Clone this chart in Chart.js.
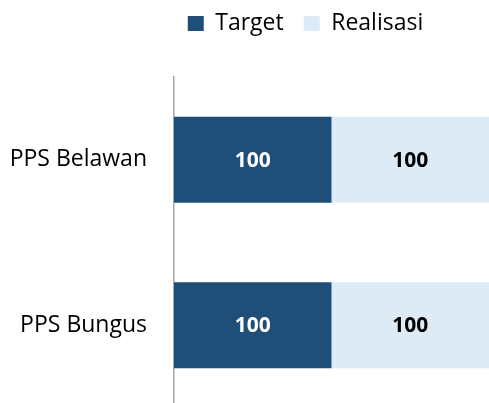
<!DOCTYPE html>
<html>
<head>
<meta charset="utf-8">
<script src="https://cdn.jsdelivr.net/npm/chart.js@4"></script>
<style>
html,body{margin:0;padding:0;background:#fff;overflow:hidden;}
#wrap{width:489px;height:403px;overflow:hidden;}
canvas{display:block;}
</style>
</head>
<body>
<div id="wrap"><canvas id="c" width="489" height="408"></canvas></div>
<script>
const categories = ["PPS Belawan", "PPS Bungus"];
const targetValues = [100, 100];
const realisasiValues = [100, 100];
const seriesNames = ["Target", "Realisasi"];

const FONT = "'Open Sans', 'Liberation Sans', sans-serif";

const labelPlugin = {
  id: 'barLabels',
  afterDatasetsDraw(chart) {
    const ctx = chart.ctx;
    ctx.save();
    ctx.font = "bold 21px " + FONT;
    ctx.textAlign = 'center';
    ctx.textBaseline = 'middle';
    chart.data.datasets.forEach((ds, i) => {
      const meta = chart.getDatasetMeta(i);
      meta.data.forEach((bar, j) => {
        const p = bar.getProps(['x','y','base'], true);
        const cx = (p.x + p.base) / 2;
        ctx.fillStyle = i === 0 ? '#ffffff' : '#000000';
        ctx.fillText(String(ds.data[j]), cx, p.y + 1);
      });
    });
    ctx.restore();
  }
};

const legendShift = {
  id: 'legendShift',
  afterLayout(chart) {
    const lg = chart.legend;
    if (lg) {
      lg.left += 61; lg.right += 61;
      lg.top -= 32; lg.bottom -= 32;
    }
  }
};

new Chart(document.getElementById('c'), {
  type: 'bar',
  data: {
    labels: categories,
    datasets: [
      { label: seriesNames[0], data: targetValues, backgroundColor: '#1F4E79', borderWidth: 0 },
      { label: seriesNames[1], data: realisasiValues, backgroundColor: '#DDEBF7', borderWidth: 0 }
    ]
  },
  options: {
    indexAxis: 'y',
    responsive: false,
    animation: false,
    devicePixelRatio: 1,
    layout: { padding: { top: 24, bottom: 0, left: 0, right: 0 } },
    datasets: { bar: { categoryPercentage: 0.52, barPercentage: 1.0 } },
    scales: {
      x: {
        stacked: true, display: false, min: 0, max: 200
      },
      y: {
        stacked: true,
        afterFit(scale) { scale.width = 174; scale.paddingTop = 0; scale.paddingBottom = 0; },
        grid: { display: false, drawTicks: false },
        border: { display: true, color: '#A6A6A6', width: 1.5 },
        ticks: { color: '#000000', font: { family: FONT, size: 23 }, padding: 27 }
      }
    },
    plugins: {
      legend: {
        position: 'top',
        labels: {
          boxWidth: 16, boxHeight: 15, padding: 20,
          color: '#000000',
          font: { family: FONT, size: 23 }
        }
      },
      tooltip: { enabled: false }
    }
  },
  plugins: [labelPlugin, legendShift]
});
</script>
</body>
</html>
